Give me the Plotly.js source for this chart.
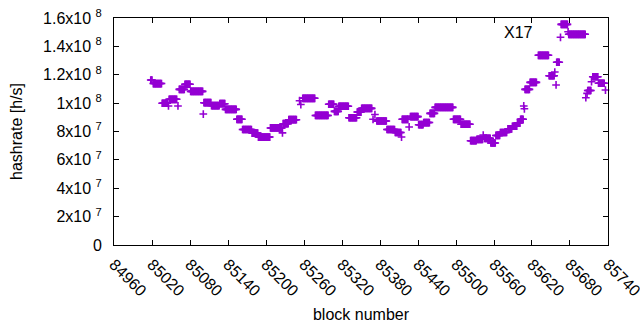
<!DOCTYPE html>
<html>
<head>
<meta charset="utf-8">
<script src="https://cdn.plot.ly/plotly-3.0.1.min.js"></script>
<style>html,body{margin:0;padding:0;background:#fff;}#chart{width:640px;height:330px;}</style>
</head>
<body>
<div id="chart"></div>
<script>
// Runs of constant hashrate: first block, last block, hashrate (h/s)
const runStart = [85018,85022,85036,85046,85047,85061,85063,85072,85081,85101,85102,85114,85127,85136,85154,85163,85178,85188,85207,85226,85227,85236,85253,85255,85258,85278,85299,85308,85315,85331,85344,85351,85369,85372,85375,85391,85404,85414,85415,85426,85428,85441,85449,85459,85467,85496,85508,85523,85533,85543,85545,85555,85563,85570,85582,85589,85597,85602,85607,85608,85609,85617,85630,85647,85656,85658,85659,85665,85666,85677,85678,85705,85707,85708,85714,85716,85725,85736];
const runEnd   = [85020,85035,85044,85046,85059,85061,85071,85080,85100,85101,85113,85126,85135,85153,85162,85177,85187,85206,85225,85226,85235,85248,85253,85255,85277,85298,85307,85314,85330,85343,85350,85367,85369,85372,85390,85403,85413,85414,85424,85426,85440,85448,85458,85466,85495,85507,85522,85532,85542,85543,85554,85562,85569,85580,85588,85596,85601,85606,85607,85608,85616,85627,85646,85655,85656,85658,85663,85665,85676,85677,85704,85705,85707,85713,85714,85724,85734,85736];
const runValue = [1.163e8,1.138e8,0.999e8,0.980e8,1.027e8,0.980e8,1.097e8,1.133e8,1.083e8,0.923e8,1.003e8,0.983e8,0.996e8,0.956e8,0.886e8,0.814e8,0.789e8,0.761e8,0.825e8,0.790e8,0.855e8,0.883e8,1.017e8,0.990e8,1.034e8,0.913e8,0.992e8,0.942e8,0.978e8,0.897e8,0.937e8,0.963e8,0.886e8,0.920e8,0.874e8,0.814e8,0.793e8,0.761e8,0.886e8,0.832e8,0.905e8,0.848e8,0.863e8,0.928e8,0.970e8,0.886e8,0.851e8,0.735e8,0.745e8,0.775e8,0.752e8,0.719e8,0.772e8,0.793e8,0.818e8,0.837e8,0.862e8,0.886e8,0.980e8,0.960e8,1.097e8,1.146e8,1.337e8,1.193e8,1.219e8,1.128e8,1.288e8,1.464e8,1.555e8,1.503e8,1.485e8,1.038e8,1.069e8,1.089e8,1.151e8,1.186e8,1.140e8,1.092e8];

const xTickVals = [84960,85020,85080,85140,85200,85260,85320,85380,85440,85500,85560,85620,85680,85740];
const yTickVals = [0,2e7,4e7,6e7,8e7,1e8,1.2e8,1.4e8,1.6e8];
const yTickText = ['0','2x10 <sup>7</sup>','4x10 <sup>7</sup>','6x10 <sup>7</sup>','8x10 <sup>7</sup>','1x10 <sup>8</sup>','1.2x10 <sup>8</sup>','1.4x10 <sup>8</sup>','1.6x10 <sup>8</sup>'];
const seriesName = 'X17';

// one point per block, each block carrying the hashrate of its run
const xs = [], ys = [];
for (let i = 0; i < runStart.length; i++) {
  for (let b = runStart[i]; b <= runEnd[i]; b++) { xs.push(b); ys.push(runValue[i]); }
}

const color = '#9400d3';
const font = {family: '"Liberation Sans", Arial, sans-serif', size: 16, color: '#000'};

const trace = {
  x: xs, y: ys, type: 'scatter', mode: 'markers', name: seriesName,
  marker: {symbol: 'cross-thin', size: 5.5, color: color, line: {width: 1.6, color: color}},
  showlegend: false, hoverinfo: 'skip', cliponaxis: false
};

const layout = {
  width: 640, height: 330,
  margin: {l: 114, r: 32, t: 18, b: 85},
  paper_bgcolor: '#fff', plot_bgcolor: '#fff',
  font: font,
  xaxis: {
    range: [84960, 85740.01], tickvals: xTickVals, ticktext: xTickVals.map(String),
    tickangle: 45, ticks: 'inside', ticklen: 5, tickcolor: '#000',
    showline: true, linecolor: '#000', linewidth: 1, mirror: 'ticks',
    showgrid: false, zeroline: false, automargin: false,
    ticklabelstandoff: 3, ticklabeloverflow: 'allow',
    title: {text: 'block number', font: font, standoff: 10}
  },
  yaxis: {
    range: [0, 1.6e8], tickvals: yTickVals, ticktext: yTickText,
    ticks: 'inside', ticklen: 5, tickcolor: '#000',
    showline: true, linecolor: '#000', linewidth: 1, mirror: 'ticks',
    showgrid: false, zeroline: false, automargin: false,
    ticklabelstandoff: 8,
    title: {text: 'hashrate [h/s]', font: font, standoff: 16}
  },
  annotations: [{
    xref: 'paper', yref: 'paper', x: (535 - 114) / 494, y: (245 - 32) / 227,
    xanchor: 'right', yanchor: 'middle', showarrow: false,
    text: seriesName, font: font
  }]
};

Plotly.newPlot('chart', [trace], layout, {displayModeBar: false, staticPlot: true});
</script>
</body>
</html>
